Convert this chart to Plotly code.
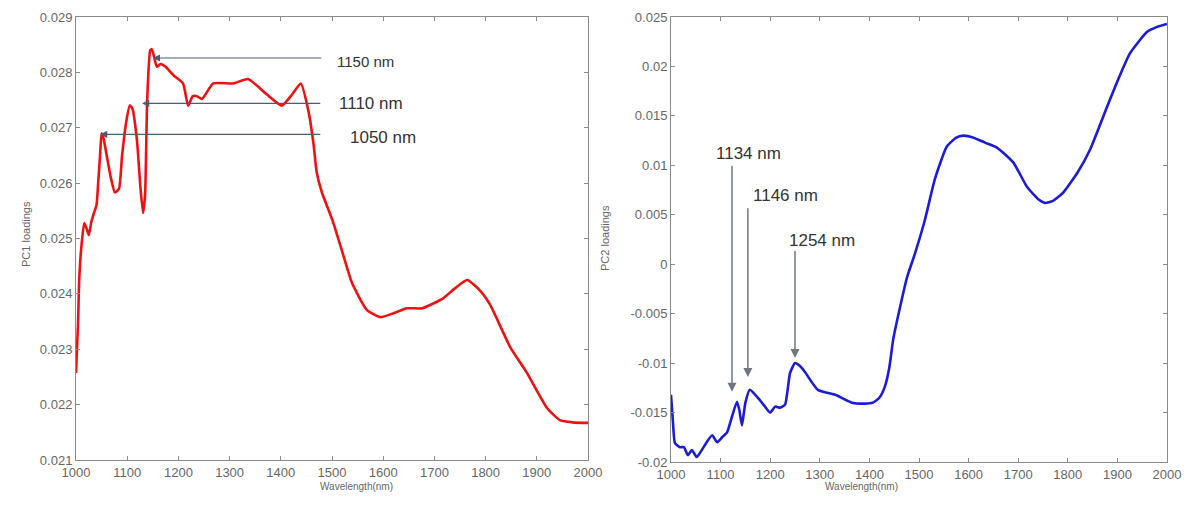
import plotly.graph_objects as go

# ---------------- data ----------------
wl_pc1 = [1000, 1004, 1006, 1010, 1016, 1020, 1025, 1030, 1035, 1040, 1044, 1047, 1050,
          1054, 1060, 1068, 1076, 1084, 1090, 1098, 1105, 1110, 1119, 1126, 1131, 1135,
          1139, 1145, 1148, 1152, 1158, 1165, 1175, 1190, 1209, 1219, 1228, 1236, 1246,
          1268, 1307, 1336, 1373, 1402, 1422, 1439, 1454, 1464, 1470, 1480, 1502, 1522,
          1539, 1568, 1594, 1620, 1646, 1676, 1717, 1740, 1764, 1790, 1809, 1848, 1881,
          1920, 1945, 1970, 2000]
pc1 = [0.02257, 0.02347, 0.0242, 0.0248, 0.02528, 0.0252, 0.02506, 0.0253, 0.02546, 0.0256,
       0.0261, 0.0265, 0.0269, 0.0268, 0.0265, 0.0261, 0.02583, 0.0259, 0.0265, 0.0271,
       0.0274, 0.02735, 0.02678, 0.0259, 0.02546, 0.0258, 0.0275, 0.0284, 0.02842, 0.0283,
       0.0281, 0.02815, 0.0281, 0.02795, 0.0278, 0.0274, 0.02757, 0.02757, 0.02752, 0.0278,
       0.0278, 0.02788, 0.0276, 0.0274, 0.0276, 0.0278, 0.0273, 0.0267, 0.0262, 0.02584,
       0.0253, 0.0247, 0.0242, 0.02371, 0.02358, 0.02365, 0.02374, 0.02374, 0.02392, 0.0241,
       0.02425, 0.02405, 0.0238, 0.02304, 0.02257, 0.02194, 0.02172, 0.02168, 0.02167]

wl_pc2 = [1000, 1004, 1008, 1018, 1026, 1034, 1042, 1052, 1062, 1072, 1083, 1093, 1103,
          1113, 1123, 1133, 1138, 1143, 1150, 1159, 1175, 1188, 1200, 1210, 1220, 1230,
          1240, 1250, 1260, 1270, 1296, 1331, 1365, 1390, 1407, 1420, 1431, 1440, 1448,
          1462, 1476, 1492, 1512, 1532, 1556, 1575, 1589, 1610, 1633, 1657, 1690, 1718,
          1740, 1754, 1770, 1790, 1820, 1845, 1879, 1900, 1925, 1960, 1980, 2000]
pc2 = [-0.0132, -0.0160, -0.0181, -0.0185, -0.0185, -0.0193, -0.0188, -0.0195, -0.0188,
       -0.0180, -0.0173, -0.0180, -0.0175, -0.0170, -0.0154, -0.0139, -0.0148, -0.0163,
       -0.0140, -0.0127, -0.0135, -0.0143, -0.0150, -0.0144, -0.0145, -0.0142, -0.0110,
       -0.0100, -0.0103, -0.0109, -0.0127, -0.0132, -0.0140, -0.0141, -0.0140, -0.0135,
       -0.0124, -0.0105, -0.0076, -0.0043, -0.0013, 0.0011, 0.0045, 0.0086, 0.0119, 0.0128,
       0.0130, 0.0128, 0.0123, 0.0118, 0.0103, 0.0078, 0.0066, 0.0062, 0.0064, 0.0072,
       0.0093, 0.0116, 0.0159, 0.0185, 0.0213, 0.0235, 0.0240, 0.0243]

x_ticks = [1000, 1100, 1200, 1300, 1400, 1500, 1600, 1700, 1800, 1900, 2000]
y1_ticks = [0.021, 0.022, 0.023, 0.024, 0.025, 0.026, 0.027, 0.028, 0.029]
y1_text = ["0.021", "0.022", "0.023", "0.024", "0.025", "0.026", "0.027", "0.028", "0.029"]
y2_ticks = [-0.02, -0.015, -0.01, -0.005, 0, 0.005, 0.01, 0.015, 0.02, 0.025]
y2_text = ["-0.02", "-0.015", "-0.01", "-0.005", "0", "0.005", "0.01", "0.015", "0.02", "0.025"]

# annotations: (label, head_x, head_y, tail_x, tail_y, text_x, text_y, size)
pc1_marks = [("1150 nm", 1150, 0.02826, 1482, 0.02826, 1506, 0.02819, 15),
             ("1110 nm", 1129, 0.02744, 1480, 0.02744, 1510, 0.02743, 17),
             ("1050 nm", 1047, 0.02688, 1480, 0.02688, 1531, 0.02683, 17)]
pc2_marks = [("1134 nm", 1123, -0.0129, 1123, 0.0101, 1157, 0.0112, 17),
             ("1146 nm", 1155, -0.0114, 1155, 0.0058, 1230, 0.0070, 17),
             ("1254 nm", 1250, -0.00948, 1250, 0.0015, 1304, 0.0024, 17)]

FONT = "Liberation Sans, Arial, sans-serif"
AXC = "#8a8a8a"
TICKC = "#666666"

fig = go.Figure()
fig.add_trace(go.Scatter(x=wl_pc1, y=pc1, mode="lines", xaxis="x", yaxis="y",
                         line=dict(color="#ee1111", width=2.6, shape="spline", smoothing=0.5),
                         showlegend=False))
fig.add_trace(go.Scatter(x=wl_pc2, y=pc2, mode="lines", xaxis="x2", yaxis="y2",
                         line=dict(color="#1c1cd6", width=2.6, shape="spline", smoothing=0.5),
                         showlegend=False))

def axis(domain, rng, vals, text, anchor):
    return dict(domain=domain, range=rng, tickvals=vals, ticktext=text, anchor=anchor,
                automargin=False,
                showgrid=False, zeroline=False, showline=True, linecolor=AXC, linewidth=1,
                mirror="ticks", ticks="inside", ticklen=4, tickcolor=AXC,
                tickfont=dict(family=FONT, size=13, color=TICKC))

xs = [str(v) for v in x_ticks]
fig.update_layout(
    width=1192, height=506,
    margin=dict(l=0, r=0, t=0, b=0, autoexpand=False),
    paper_bgcolor="white", plot_bgcolor="white",
    xaxis=axis([76 / 1192, 588 / 1192], [1000, 2000], x_ticks, xs, "y"),
    yaxis=axis([46 / 506, 489 / 506], [0.021, 0.029], y1_ticks, y1_text, "x"),
    xaxis2=axis([671 / 1192, 1167 / 1192], [1000, 2000], x_ticks, xs, "y2"),
    yaxis2=axis([44 / 506, 489 / 506], [-0.02, 0.025], y2_ticks, y2_text, "x2"),
)

ann = []
for (lab, hx, hy, tx, ty, lx, ly, sz) in pc1_marks:
    ann.append(dict(x=hx, y=hy, ax=tx, ay=ty, xref="x", yref="y", axref="x", ayref="y",
                    text="", showarrow=True, arrowhead=2, arrowsize=1.2, arrowwidth=1.2,
                    arrowcolor="#4d5b70", standoff=0, startstandoff=0))
    ann.append(dict(x=lx, y=ly, xref="x", yref="y", text=lab, showarrow=False,
                    xanchor="left", yanchor="middle",
                    font=dict(family=FONT, size=sz, color="#333333")))
for (lab, hx, hy, tx, ty, lx, ly, sz) in pc2_marks:
    ann.append(dict(x=hx, y=hy, ax=tx, ay=ty, xref="x2", yref="y2", axref="x2", ayref="y2",
                    text="", showarrow=True, arrowhead=2, arrowsize=1.2, arrowwidth=1.5,
                    arrowcolor="#6f7785", standoff=0, startstandoff=0))
    ann.append(dict(x=lx, y=ly, xref="x2", yref="y2", text=lab, showarrow=False,
                    xanchor="center", yanchor="middle",
                    font=dict(family=FONT, size=sz, color="#333333")))

# axis titles
ann.append(dict(x=18 / 1192, y=1 - 234 / 506, xref="paper", yref="paper", text="PC1 loadings",
                textangle=-90, showarrow=False, font=dict(family=FONT, size=11, color=TICKC)))
ann.append(dict(x=605 / 1192, y=1 - 238 / 506, xref="paper", yref="paper", text="PC2 loadings",
                textangle=-90, showarrow=False, font=dict(family=FONT, size=11, color=TICKC)))
ann.append(dict(x=318 / 1192, y=1 - 494 / 506, xref="paper", yref="paper", text="Wavelength(nm)",
                showarrow=False, font=dict(family=FONT, size=10, color=TICKC)))
ann.append(dict(x=900 / 1192, y=1 - 494 / 506, xref="paper", yref="paper", text="Wavelength(nm)",
                showarrow=False, font=dict(family=FONT, size=10, color=TICKC)))
fig.update_layout(annotations=ann)

fig.write_html("out.html")
